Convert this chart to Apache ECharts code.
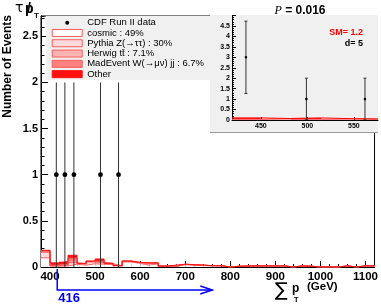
<!DOCTYPE html>
<html><head><meta charset="utf-8">
<script src="https://cdn.jsdelivr.net/npm/echarts@6/dist/echarts.min.js"></script>
<style>html,body{margin:0;padding:0;background:#fff}#c{width:381px;height:305px}</style>
</head><body><div id="c"></div>
<script>
// ---------------- data ----------------
const binStarts = [380,400,420,440,460,480,500,520,540,560,580,600,620,640,660,680,700,720,740,760,780,800,820,840,860,880,900,920,940,960,980,1000,1020,1040,1060,1080,1100];
const binEnd = 1120;
const cosmic   = [0.10,0.010,0.012,0.030,0.020,0.035,0.030,0.025,0.010,0.055,0.040,0.020,0.035,0.008,0.005,0.025,0.020,0.016,0.012,0.012,0,0.006,0.008,0.010,0.012,0.012,0.012,0,0.012,0.008,0,0,0,0.012,0,0.012,0.012];
const pythia   = [0.06,0.005,0.006,0.017,0.012,0.020,0.015,0.010,0.005,0.005,0.006,0.020,0.006,0.002,0.003,0.003,0.003,0.002,0.002,0.002,0,0.002,0.002,0.002,0,0,0,0,0,0,0,0,0,0,0,0,0];
const herwig   = [0.01,0,0.005,0.020,0.003,0.005,0.007,0.003,0,0.003,0.002,0.003,0.002,0,0.002,0.002,0.002,0.002,0.001,0.001,0,0,0,0,0,0,0,0,0,0,0,0,0,0,0,0,0];
const madevent = [0.01,0.005,0.005,0.030,0.003,0.003,0.010,0.001,0,0.002,0.002,0.002,0.002,0,0.002,0,0,0,0,0,0,0,0,0,0,0,0,0,0,0,0,0,0,0,0,0,0];
const other    = [0,0.025,0.030,0.030,0.002,0.002,0.025,0.001,0,0,0,0,0,0,0.008,0,0,0,0,0,0,0,0,0,0,0,0,0,0,0,0,0,0,0,0,0,0];
const dataX   = [414,433,453,512,552];
const dataY   = [1,1,1,1,1];
const dataErr = [1,1,1,1,1];
const xTickLabels = [400,500,600,700,800,900,1000,1100];

const insetBinStarts = [419,450,482,515,550];
const insetBinEnd = 576;
const insetPink = [0.02,0.07,0.02,0.06,0.05];
const insetRed  = [0.08,0,0.08,0,0];
const insetX   = [434,499,562];
const insetY   = [3,1,1];
const insetErr = [1.73,1,1];
const insetXTickLabels = [450,500,550];

const threshold = 416;
const arrowEndValue = 760;
const seriesNames = ['CDF Run II data','cosmic : 49%','Pythia Z(→ττ) : 30%','Herwig tt\u0304 : 7.1%','MadEvent W(→μν) jj : 6.7%','Other'];

// ---------------- helpers ----------------
const FF = 'Liberation Sans, Arial, Helvetica, sans-serif';
function cumulate(layers){
  const out=[]; let prev=layers[0].map(()=>0);
  layers.forEach(l=>{ const lo=prev; const hi=l.map((v,i)=>lo[i]+v); out.push([lo,hi]); prev=hi; });
  return out;
}
function toStep(starts, vals, end){
  const d = starts.map((s,i)=>[s, vals[i]]);
  d.push([end, vals[vals.length-1]]);
  return d;
}
function fillSeries(name, lo, hi, fill, xi, yi, z, starts, end){
  return {name, type:'custom', xAxisIndex:xi, yAxisIndex:yi, z, silent:true, itemStyle:{color:fill},
    data: starts.map((s,i)=>[s, i<starts.length-1?starts[i+1]:end, lo[i], hi[i]]),
    encode:{x:[0,1], y:[2,3]},
    renderItem(params, api){
      const a=api.coord([api.value(0), api.value(2)]), b=api.coord([api.value(1), api.value(3)]);
      return {type:'rect', shape:{x:a[0], y:b[1], width:b[0]-a[0], height:a[1]-b[1]}, style:{fill}};
    }};
}
function outlineSeries(vals, color, xi, yi, z, starts, end){
  return {type:'line', xAxisIndex:xi, yAxisIndex:yi, z, step:'end', symbol:'none', silent:true,
    data: toStep(starts, vals, end), lineStyle:{color, width:1}, emphasis:{disabled:true}};
}
function errSeries(name, xs, ys, es, xi, yi, r, cap, z){
  return {
    name, type:'custom', xAxisIndex:xi, yAxisIndex:yi, z, clip:true,
    data: xs.map((x,i)=>[x, ys[i], es[i]]),
    encode:{x:0,y:1},
    renderItem(params, api){
      const x=api.value(0), y=api.value(1), e=api.value(2);
      const c=api.coord([x,y]), lo=api.coord([x,y-e]), hi=api.coord([x,y+e]);
      const ch=[{type:'line',shape:{x1:c[0],y1:lo[1],x2:c[0],y2:hi[1]},style:{stroke:'#333',lineWidth:1}}];
      if(cap){
        ch.push({type:'line',shape:{x1:c[0]-cap,y1:lo[1],x2:c[0]+cap,y2:lo[1]},style:{stroke:'#333',lineWidth:1}});
        ch.push({type:'line',shape:{x1:c[0]-cap,y1:hi[1],x2:c[0]+cap,y2:hi[1]},style:{stroke:'#333',lineWidth:1}});
      }
      ch.push({type:'circle',shape:{cx:c[0],cy:c[1],r},style:{fill:'#000'}});
      return {type:'group',children:ch};
    }
  };
}

const mainLayers = cumulate([cosmic, pythia, herwig, madevent, other]);
const mainFills = ['#ffffff','#ffdcdc','#ffb4b4','#ff8080','#ff1010'];
const mainLines = ['#ff6060','#ff6060','#ff6060','#ff5050','#ff1010'];
const insetLayers = cumulate([insetPink, insetRed]);

const series = [];
mainLayers.forEach(([lo,hi],k)=>{
  series.push(fillSeries(seriesNames[k+1], lo, hi, mainFills[k], 0,0,2, binStarts, binEnd));
});
mainLayers.forEach(([lo,hi],k)=>{
  series.push(outlineSeries(hi, mainLines[k], 0,0,3, binStarts, binEnd));
});
series.push(errSeries(seriesNames[0], dataX, dataY, dataErr, 0, 0, 2.4, 0, 4));
series.push(fillSeries('insetPink', insetLayers[0][0], insetLayers[0][1], '#ffb0b0', 2,2,7, insetBinStarts, insetBinEnd));
series.push(fillSeries('insetRed', insetLayers[1][0], insetLayers[1][1], '#ff2020', 2,2,7, insetBinStarts, insetBinEnd));
series.push(outlineSeries(insetLayers[0][1], '#ff7070', 2,2,7, insetBinStarts, insetBinEnd));
series.push(outlineSeries(insetLayers[1][1], '#ff0000', 2,2,7, insetBinStarts, insetBinEnd));
series.push(errSeries('insetData', insetX, insetY, insetErr, 2, 2, 1.3, 1.5, 8));

const chart = echarts.init(document.getElementById('c'), null, {renderer:'canvas'});
const axisBlack = {lineStyle:{color:'#000',width:1}};
const option = {
  animation:false,
  backgroundColor:'#fff',
  grid:[
    {left:41, right:3.5, top:16, bottom:38, show:true, borderColor:'#000', borderWidth:1, backgroundColor:'transparent'},
    {left:232, right:3, top:15.5, bottom:185, show:false}
  ],
  xAxis:[
    {gridIndex:0, type:'value', position:'bottom', min:380, max:binEnd, interval:20,
     axisLine:{show:true, ...axisBlack}, splitLine:{show:false},
     axisTick:{show:true, inside:true, length:6, customValues:xTickLabels, ...axisBlack},
     axisLabel:{customValues:xTickLabels, formatter:v=>String(v), fontSize:11.5, fontWeight:'bold', color:'#000', fontFamily:FF, margin:4}},
    {gridIndex:0, type:'value', position:'bottom', min:380, max:binEnd, interval:20,
     axisLine:{show:false}, splitLine:{show:false}, axisLabel:{show:false},
     axisTick:{show:true, inside:true, length:3, ...axisBlack}},
    {gridIndex:1, type:'value', position:'bottom', min:419, max:insetBinEnd, z:7,
     axisLine:{show:true, ...axisBlack}, splitLine:{show:false},
     axisTick:{show:true, inside:true, length:3, customValues:insetXTickLabels, ...axisBlack},
     axisLabel:{customValues:insetXTickLabels, formatter:v=>String(v), fontSize:7, fontWeight:'bold', color:'#000', fontFamily:FF, margin:3}}
  ],
  yAxis:[
    {gridIndex:0, type:'value', position:'left', min:0, max:2.72, interval:0.5,
     axisLine:{show:true, ...axisBlack}, splitLine:{show:false},
     axisTick:{show:true, inside:true, length:7, ...axisBlack},
     axisLabel:{fontSize:11, fontWeight:'bold', color:'#000', fontFamily:FF, margin:3, showMaxLabel:false}},
    {gridIndex:0, type:'value', position:'left', min:0, max:2.72, interval:0.1,
     axisLine:{show:false}, splitLine:{show:false}, axisLabel:{show:false},
     axisTick:{show:true, inside:true, length:3.5, ...axisBlack}},
    {gridIndex:1, type:'value', position:'left', min:0, max:5, interval:0.5, z:7,
     axisLine:{show:true, ...axisBlack}, splitLine:{show:false},
     axisTick:{show:true, inside:true, length:4, ...axisBlack},
     minorTick:{show:true, splitNumber:5, length:2, lineStyle:{color:'#000'}},
     axisLabel:{fontSize:7, fontWeight:'bold', color:'#000', fontFamily:FF, margin:2, showMaxLabel:false}}
  ],
  legend:{
    orient:'vertical', left:51.7, top:17.5, padding:0, itemWidth:30, itemHeight:7, itemGap:0, z:6,
    selectedMode:false,
    textStyle:{fontSize:9.5, fontFamily:FF, color:'#000', lineHeight:10.3},
    data:[
      {name:seriesNames[0], icon:'path://M0,0M30,7M13,3.5a2,2 0 1,0 4,0a2,2 0 1,0 -4,0z', itemStyle:{color:'#000', borderWidth:0}},
      {name:seriesNames[1], icon:'rect', itemStyle:{color:'#ffffff', borderColor:'#ff5a5a', borderWidth:1}},
      {name:seriesNames[2], icon:'rect', itemStyle:{color:'#ffdcdc', borderColor:'#ff5a5a', borderWidth:1}},
      {name:seriesNames[3], icon:'rect', itemStyle:{color:'#ffb4b4', borderColor:'#ff5a5a', borderWidth:1}},
      {name:seriesNames[4], icon:'rect', itemStyle:{color:'#ff8080', borderColor:'#ff5a5a', borderWidth:1}},
      {name:seriesNames[5], icon:'rect', itemStyle:{color:'#ff1010', borderColor:'#ff1010', borderWidth:1}}
    ]
  },
  series,
  graphic:[]
};
chart.setOption(option);

const px0 = chart.convertToPixel({xAxisIndex:0}, threshold);
const pxEnd = chart.convertToPixel({xAxisIndex:0}, arrowEndValue);
const y0 = chart.convertToPixel({yAxisIndex:0}, 0);
const blue = '#0000ff';
chart.setOption({graphic:[
  {type:'rect', z:5, shape:{x:46, y:16, width:164, height:64}, style:{fill:'#f0f0f0'}},
  {type:'rect', z:5, shape:{x:210, y:15, width:168, height:117}, style:{fill:'#f0f0f0'}},
  {type:'line', z:5, shape:{x1:210, y1:132.5, x2:378, y2:132.5}, style:{stroke:'#999', lineWidth:1}},
  {type:'text', z:9, x:15, y:8, style:{text:'τ', fontSize:14, fontFamily:'DejaVu Sans', fill:'#000', textVerticalAlign:'middle'}},
  {type:'text', z:9, x:25, y:9, style:{text:'p', fontSize:14, fontWeight:'bold', fontFamily:FF, fill:'#000', textVerticalAlign:'middle'}},
  {type:'text', z:9, x:27, y:9, style:{text:'/', fontSize:14, fontWeight:'bold', fontFamily:FF, fill:'#000', textVerticalAlign:'middle'}},
  {type:'text', z:9, x:34, y:15.5, style:{text:'T', fontSize:8, fontWeight:'bold', fontFamily:FF, fill:'#000', textVerticalAlign:'middle'}},
  {type:'text', z:9, x:8, y:15, rotation:Math.PI/2, style:{text:'Number of Events', fontSize:12, fontWeight:'bold', fontFamily:FF, fill:'#000', textAlign:'right', textVerticalAlign:'middle'}},
  {type:'text', z:9, x:275, y:291, style:{text:'∑', fontSize:19, fontFamily:'DejaVu Sans', fill:'#000', textVerticalAlign:'middle'}},
  {type:'text', z:9, x:292, y:289, style:{text:'p', fontSize:12, fontWeight:'bold', fontFamily:FF, fill:'#000', textVerticalAlign:'middle'}},
  {type:'text', z:9, x:294, y:300, style:{text:'T', fontSize:7.5, fontWeight:'bold', fontFamily:FF, fill:'#000', textVerticalAlign:'middle'}},
  {type:'text', z:9, x:307, y:287, style:{text:'(GeV)', fontSize:11.5, fontWeight:'bold', fontFamily:FF, fill:'#000', textVerticalAlign:'middle'}},
  {type:'text', z:9, x:300, y:11, style:{text:'{i|P} {b|= 0.016}', textAlign:'center', textVerticalAlign:'middle',
     rich:{i:{fontSize:12, fontStyle:'italic', fontFamily:'Liberation Serif, serif', fill:'#000'}, b:{fontSize:12, fontWeight:'bold', fontFamily:FF, fill:'#000'}}}},
  {type:'text', z:9, x:363, y:33, style:{text:'SM= 1.2', fontSize:9, fontWeight:'bold', fontFamily:FF, fill:'#ff0000', textAlign:'right', textVerticalAlign:'middle'}},
  {type:'text', z:9, x:363, y:44, style:{text:'d= 5', fontSize:9, fontWeight:'bold', fontFamily:FF, fill:'#000', textAlign:'right', textVerticalAlign:'middle'}},
  {type:'polyline', z:9, shape:{points:[[px0, y0+2],[px0, y0+23],[pxEnd, y0+23]]}, style:{stroke:blue, lineWidth:1.5, fill:null}},
  {type:'polyline', z:9, shape:{points:[[pxEnd-12, y0+19],[pxEnd, y0+23],[pxEnd-12, y0+27]]}, style:{stroke:blue, lineWidth:1.5, fill:null}},
  {type:'text', z:9, x:px0+1, y:y0+31, style:{text:String(threshold), fontSize:13, fontWeight:'bold', fontFamily:FF, fill:blue, textVerticalAlign:'middle'}}
]});
</script></body></html>
